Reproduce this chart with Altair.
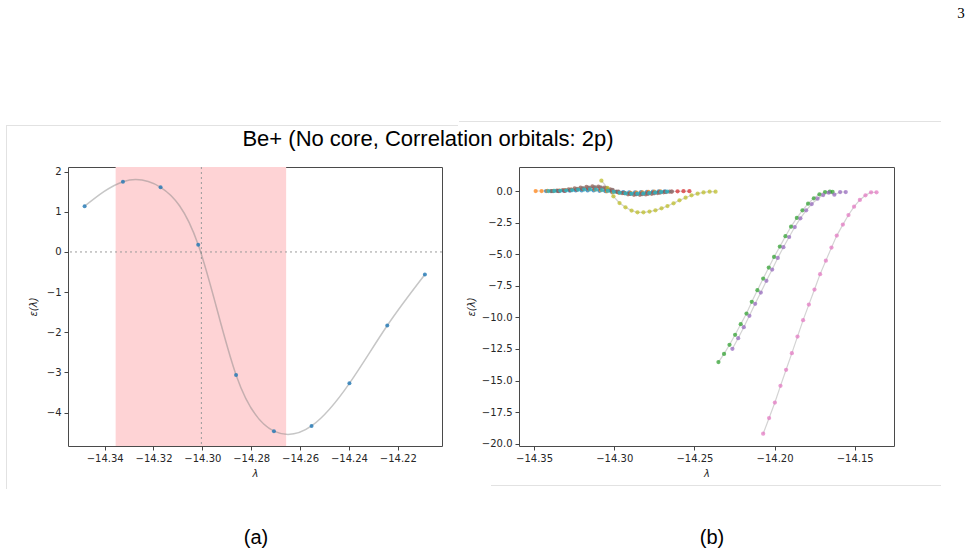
import altair as alt
import pandas as pd

# ---------------- Panel (a) data ----------------
a_lam = [-14.3482, -14.3325, -14.3171, -14.3017, -14.2862, -14.2707, -14.2553, -14.2398, -14.2243, -14.2089]
a_eps = [1.14, 1.75, 1.61, 0.18, -3.06, -4.46, -4.33, -3.27, -1.83, -0.56]
a_span = [-14.3355, -14.2657]
a_vline = [-14.3004]
a_hline = [0.0]
a_xticks = [-14.34, -14.32, -14.30, -14.28, -14.26, -14.24, -14.22]
a_yticks = [-4, -3, -2, -1, 0, 1, 2]
a_xdom = [-14.355, -14.2019]
a_ydom = [-4.83, 2.115]

# ---------------- Panel (b) data ----------------
b_blue_lam = [-14.3425, -14.3388, -14.3351, -14.3314, -14.3277, -14.3240, -14.3203, -14.3166, -14.3129, -14.3092, -14.3055,
              -14.3018, -14.2981, -14.2944, -14.2907, -14.2870, -14.2833, -14.2796, -14.2759, -14.2722, -14.2685]
b_blue_eps = [0.00, 0.00, 0.01, 0.02, 0.03, 0.04, 0.05, 0.05, 0.04, 0.02, -0.01,
              -0.04, -0.07, -0.09, -0.10, -0.10, -0.09, -0.07, -0.05, -0.03, -0.02]

b_orange_lam = [-14.3490, -14.3453, -14.3416, -14.3379, -14.3342, -14.3305, -14.3268, -14.3231, -14.3194, -14.3157, -14.3120,
                -14.3083, -14.3046, -14.3009, -14.2972, -14.2935, -14.2898, -14.2861, -14.2824, -14.2787, -14.2750, -14.2713]
b_orange_eps = [0.00, 0.00, 0.01, 0.02, 0.04, 0.07, 0.10, 0.13, 0.15, 0.15, 0.12,
                0.06, -0.02, -0.09, -0.14, -0.16, -0.15, -0.13, -0.10, -0.07, -0.04, -0.02]

b_green_lam = [-14.2350, -14.2315, -14.2281, -14.2246, -14.2211, -14.2175, -14.2142, -14.2107, -14.2071, -14.2036, -14.2003,
               -14.1967, -14.1932, -14.1897, -14.1861, -14.1826, -14.1791, -14.1755, -14.1720, -14.1685, -14.1655, -14.1638]
b_green_eps = [-13.54, -12.89, -12.17, -11.38, -10.54, -9.70, -8.77, -7.85, -6.93, -6.06, -5.22,
               -4.40, -3.58, -2.82, -2.13, -1.53, -1.00, -0.58, -0.26, -0.08, -0.05, -0.07]

b_red_lam = [-14.3345, -14.3308, -14.3271, -14.3234, -14.3197, -14.3160, -14.3123, -14.3086, -14.3049, -14.3012, -14.2975, -14.2938,
             -14.2901, -14.2864, -14.2827, -14.2790, -14.2753, -14.2716, -14.2679, -14.2642, -14.2605, -14.2568, -14.2531]
b_red_eps = [0.00, 0.02, 0.06, 0.11, 0.17, 0.22, 0.25, 0.24, 0.18, 0.07, -0.06, -0.16,
             -0.22, -0.24, -0.23, -0.19, -0.15, -0.10, -0.06, -0.04, -0.02, -0.01, -0.01]

b_purple_lam = [-14.2263, -14.2227, -14.2192, -14.2157, -14.2121, -14.2086, -14.2051, -14.2015, -14.1980, -14.1945, -14.1909,
                -14.1874, -14.1839, -14.1803, -14.1768, -14.1732, -14.1697, -14.1662, -14.1627, -14.1591, -14.1556]
b_purple_eps = [-12.49, -11.65, -10.78, -9.88, -8.93, -8.04, -7.11, -6.22, -5.30, -4.45, -3.64,
                -2.85, -2.16, -1.53, -1.03, -0.61, -0.32, -0.13, -0.29, -0.08, -0.08]

b_brown_lam = [-14.3395, -14.3358, -14.3321, -14.3284, -14.3247, -14.3210, -14.3173, -14.3136, -14.3099, -14.3062, -14.3025,
               -14.2988, -14.2951, -14.2914, -14.2877, -14.2840, -14.2803, -14.2766, -14.2729, -14.2692, -14.2655]
b_brown_eps = [0.00, 0.03, 0.07, 0.13, 0.20, 0.27, 0.33, 0.36, 0.34, 0.26, 0.12,
               -0.04, -0.17, -0.26, -0.30, -0.30, -0.27, -0.22, -0.16, -0.10, -0.05]

b_pink_lam = [-14.2071, -14.2034, -14.1998, -14.1963, -14.1928, -14.1892, -14.1857, -14.1822, -14.1786, -14.1751, -14.1716,
              -14.1680, -14.1645, -14.1612, -14.1574, -14.1539, -14.1504, -14.1468, -14.1433, -14.1398, -14.1364]
b_pink_eps = [-19.21, -17.97, -16.74, -15.42, -14.15, -12.83, -11.52, -10.22, -8.99, -7.80, -6.58,
              -5.51, -4.48, -3.53, -2.66, -1.90, -1.24, -0.71, -0.34, -0.10, -0.10]

b_gray_lam = [-14.3380, -14.3343, -14.3306, -14.3269, -14.3232, -14.3195, -14.3158, -14.3121, -14.3084, -14.3047, -14.3010,
              -14.2973, -14.2936, -14.2899, -14.2862, -14.2825, -14.2788, -14.2751, -14.2714, -14.2677, -14.2640]
b_gray_eps = [0.00, 0.02, 0.05, 0.10, 0.16, 0.22, 0.27, 0.30, 0.28, 0.21, 0.09,
              -0.04, -0.15, -0.22, -0.25, -0.25, -0.22, -0.18, -0.13, -0.08, -0.04]

b_olive_lam = [-14.3080, -14.3042, -14.3005, -14.2967, -14.2930, -14.2892, -14.2855, -14.2818, -14.2780, -14.2743,
               -14.2705, -14.2668, -14.2630, -14.2593, -14.2555, -14.2518, -14.2480, -14.2443, -14.2405, -14.2368]
b_olive_eps = [0.82, 0.24, -0.42, -0.95, -1.29, -1.55, -1.69, -1.69, -1.63, -1.53,
               -1.37, -1.19, -0.97, -0.74, -0.53, -0.34, -0.21, -0.11, -0.05, -0.05]

b_cyan_lam = [-14.3410, -14.3373, -14.3336, -14.3299, -14.3262, -14.3225, -14.3188, -14.3151, -14.3114, -14.3077, -14.3040,
              -14.3003, -14.2966, -14.2929, -14.2892, -14.2855, -14.2818, -14.2781, -14.2744, -14.2707, -14.2670]
b_cyan_eps = [0.00, 0.01, 0.02, 0.04, 0.06, 0.09, 0.11, 0.12, 0.11, 0.07, 0.01,
              -0.07, -0.14, -0.19, -0.21, -0.21, -0.19, -0.15, -0.11, -0.07, -0.04]

b_series_names = ["C0", "C1", "C2", "C3", "C4", "C5", "C6", "C7", "C8", "C9"]
b_series_colors = ["#1f77b4", "#ff7f0e", "#2ca02c", "#d62728", "#9467bd",
                   "#8c564b", "#e377c2", "#7f7f7f", "#bcbd22", "#17becf"]
b_xticks = [-14.35, -14.30, -14.25, -14.20, -14.15]
b_yticks = [-20.0, -17.5, -15.0, -12.5, -10.0, -7.5, -5.0, -2.5, 0.0]
b_xdom = [-14.3594, -14.1255]
b_ydom = [-20.18, 1.90]

title_text = "Be+ (No core, Correlation orbitals: 2p)"
caption_a = "(a)"
caption_b = "(b)"
page_number = "3"

# ---------------- build tables ----------------
df_a = pd.DataFrame({"lam": a_lam, "eps": a_eps})
df_span = pd.DataFrame({"x0": [a_span[0]], "x1": [a_span[1]]})
df_v = pd.DataFrame({"v": a_vline})
df_h = pd.DataFrame({"h": a_hline})

pairs = [(b_blue_lam, b_blue_eps), (b_orange_lam, b_orange_eps), (b_green_lam, b_green_eps),
         (b_red_lam, b_red_eps), (b_purple_lam, b_purple_eps), (b_brown_lam, b_brown_eps),
         (b_pink_lam, b_pink_eps), (b_gray_lam, b_gray_eps), (b_olive_lam, b_olive_eps),
         (b_cyan_lam, b_cyan_eps)]
rows = []
for order, (name, (ls, es)) in enumerate(zip(b_series_names, pairs)):
    for l, e in zip(ls, es):
        rows.append({"lam": l, "eps": e, "series": name, "ord": order})
df_b = pd.DataFrame(rows)
one = pd.DataFrame({"k": [0]})

W_A, H = 374, 279
W_B = 375
X0, Y0 = 67, 166
SPACING = 77

FONT = "DejaVu Sans"
axis_style = dict(domain=False, grid=False, tickSize=4, tickColor="#444", tickWidth=1,
                  labelFont=FONT, labelFontSize=10, labelColor="#262626", labelPadding=3,
                  labelFlush=False, labelOverlap=False,
                  titleFont=FONT, titleFontSize=10, titleFontStyle="italic",
                  titleFontWeight="normal", titleColor="#262626")

xa_scale = alt.Scale(domain=a_xdom, nice=False, zero=False)
ya_scale = alt.Scale(domain=a_ydom, nice=False, zero=False)
xa_axis = alt.Axis(title="λ", values=a_xticks, tickCount=len(a_xticks), format=".2f", titlePadding=5, **axis_style)
ya_axis = alt.Axis(title="ε(λ)", values=a_yticks, tickCount=len(a_yticks), format="d", titlePadding=8, **axis_style)

span = alt.Chart(df_span).mark_rect(color="#fed3d5").encode(
    x=alt.X("x0:Q", scale=xa_scale, axis=xa_axis), x2="x1:Q")
vline = alt.Chart(df_v).mark_rule(color="#9a9a9a", strokeDash=[2, 3], strokeWidth=1).encode(
    x=alt.X("v:Q", scale=xa_scale))
hline = alt.Chart(df_h).mark_rule(color="#9a9a9a", strokeDash=[2, 3], strokeWidth=1).encode(
    y=alt.Y("h:Q", scale=ya_scale, axis=ya_axis))
curve = alt.Chart(df_a).mark_line(color="#808080", opacity=0.45, strokeWidth=1.5, interpolate="natural").encode(
    x=alt.X("lam:Q", scale=xa_scale), y=alt.Y("eps:Q", scale=ya_scale))
pts_a = alt.Chart(df_a).mark_circle(color="#1f77b4", opacity=0.8, size=16).encode(
    x=alt.X("lam:Q", scale=xa_scale), y=alt.Y("eps:Q", scale=ya_scale))

# decorative text / frame lines positioned relative to panel (a) plot origin
def deco_text(txt, x, y, font, size, baseline="middle"):
    return alt.Chart(one).mark_text(text=txt, font=font, fontSize=size, align="center",
                                    baseline=baseline, color="#000000").encode(
        x=alt.value(x), y=alt.value(y))

def deco_rule(x1, y1, x2, y2, color="#e2e2e2", opacity=1.0):
    return alt.Chart(one).mark_rule(color=color, strokeWidth=1, strokeOpacity=opacity).encode(
        x=alt.value(x1), y=alt.value(y1), x2=alt.value(x2), y2=alt.value(y2))

anchor = deco_rule(-X0, -Y0, -X0, -Y0 + 1, opacity=0.0)
title = deco_text(title_text, 427 - X0, 145 - Y0, "Liberation Sans", 22, baseline="alphabetic")
cap_a = deco_text(caption_a, 255 - X0, 537 - Y0, "Liberation Sans", 20)
cap_b = deco_text(caption_b, 711 - X0, 537 - Y0, "Liberation Sans", 20)
page = deco_text(page_number, 960 - X0, 12 - Y0, "Liberation Serif", 15)
fr1 = deco_rule(5 - X0, 124.5 - Y0, 457 - X0, 124.5 - Y0)
fr2 = deco_rule(5.5 - X0, 124 - Y0, 5.5 - X0, 488 - Y0)
fr3 = deco_rule(458 - X0, 120.5 - Y0, 940 - X0, 120.5 - Y0)
fr4 = deco_rule(490 - X0, 484.5 - Y0, 940 - X0, 484.5 - Y0)

panel_a = alt.layer(span, vline, hline, curve, pts_a,
                    anchor, fr1, fr2, fr3, fr4, title, cap_a, cap_b, page).properties(width=W_A, height=H)

# ---------------- Panel (b) ----------------
xb_scale = alt.Scale(domain=b_xdom, nice=False, zero=False)
yb_scale = alt.Scale(domain=b_ydom, nice=False, zero=False)
xb_axis = alt.Axis(title="λ", values=b_xticks, tickCount=len(b_xticks), format=".2f", titlePadding=5, **axis_style)
yb_axis = alt.Axis(title="ε(λ)", values=b_yticks, tickCount=len(b_yticks), format=".1f", titlePadding=5, **axis_style)

lines_b = alt.Chart(df_b).mark_line(color="#808080", opacity=0.35, strokeWidth=1.2).encode(
    x=alt.X("lam:Q", scale=xb_scale, axis=xb_axis),
    y=alt.Y("eps:Q", scale=yb_scale, axis=yb_axis),
    detail="series:N")
pts_b = alt.Chart(df_b).mark_circle(size=18, opacity=0.72).encode(
    x=alt.X("lam:Q", scale=xb_scale),
    y=alt.Y("eps:Q", scale=yb_scale),
    color=alt.Color("series:N", scale=alt.Scale(domain=b_series_names, range=b_series_colors), legend=None),
    order=alt.Order("ord:Q"))

panel_b = alt.layer(lines_b, pts_b).properties(width=W_B, height=H)

chart = alt.hconcat(panel_a, panel_b, spacing=SPACING, bounds="flush").properties(
    padding=0, background="white"
).configure_view(stroke="#4a4a4a", strokeWidth=1)

chart.save("out.html", embed_options={"renderer": "svg", "actions": False})
